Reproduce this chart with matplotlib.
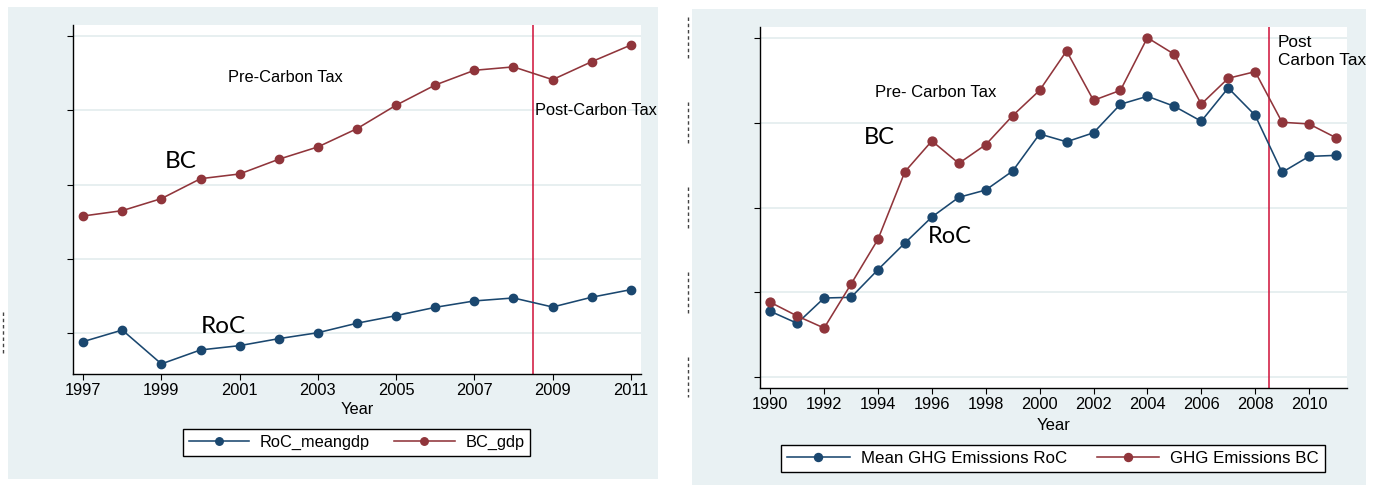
import matplotlib
matplotlib.use("Agg")
import matplotlib.pyplot as plt
from matplotlib.lines import Line2D
from matplotlib.patches import Rectangle
from matplotlib import font_manager

# ---- GDP panel data -------------------------------------------------------
gdp_years = list(range(1997, 2012))
roc_meangdp = [44.2, 52.0, 29.2, 38.6, 41.5, 46.2, 50.2, 56.6,
               61.7, 67.3, 71.6, 73.6, 67.5, 74.1, 79.2]
bc_gdp = [128.8, 132.4, 140.5, 153.9, 157.1, 167.0, 175.3, 187.6,
          203.4, 217.0, 226.9, 229.2, 220.6, 232.7, 243.9]
gdp_xticks = list(range(1997, 2012, 2))
gdp_yticks = [50, 100, 150, 200, 250]
gdp_labels = ["RoC_meangdp", "BC_gdp"]

# ---- GHG emissions panel data --------------------------------------------
ghg_years = list(range(1990, 2012))
roc_ghg = [48.89, 48.18, 49.67, 49.71, 51.34, 52.91, 54.44, 55.60, 56.03,
           57.15, 59.33, 58.87, 59.40, 61.08, 61.55, 60.96, 60.08, 62.04,
           60.43, 57.07, 58.01, 58.07]
bc_ghg = [49.42, 48.61, 47.90, 50.49, 53.13, 57.11, 58.92, 57.60, 58.70,
          60.41, 61.90, 64.22, 61.31, 61.90, 65.00, 64.02, 61.09, 62.61,
          63.00, 60.02, 59.92, 59.11]
ghg_xticks = list(range(1990, 2011, 2))
ghg_yticks = [45, 50, 55, 60, 65]
ghg_labels = ["Mean GHG Emissions RoC", "GHG Emissions BC"]

carbon_tax_year = 2008.5

# ---- styling ---------------------------------------------------------------
W, H = 1380, 488
BG = "#E9F1F3"
GRID = "#E3ECEE"
NAVY = "#1A476F"
MAROON = "#90353B"
TAXLINE = "#CF1038"

names = {f.name for f in font_manager.fontManager.ttflist}
SANS = "Liberation Sans" if "Liberation Sans" in names else "DejaVu Sans"
BIG = "Lato" if "Lato" in names else SANS
plt.rcParams["font.family"] = [SANS, "DejaVu Sans"]

fig = plt.figure(figsize=(W / 100, H / 100), dpi=100)
fig.patch.set_facecolor("white")


def fig_box(x0, y0, x1, y1):
    return [x0 / W, 1 - y1 / H, (x1 - x0) / W, (y1 - y0) / H]


def fig_pt(x, y):
    return (x / W, 1 - y / H)


# graph regions
for x0, y0, x1, y1 in [(8, 7, 658, 479), (692, 9, 1366, 485)]:
    b = fig_box(x0, y0, x1, y1)
    fig.patches.append(Rectangle((b[0], b[1]), b[2], b[3],
                                 transform=fig.transFigure, facecolor=BG,
                                 edgecolor="none", zorder=-5))


def style(ax, xticks, yticks):
    ax.set_facecolor("white")
    for s in ("top", "right"):
        ax.spines[s].set_visible(False)
    for s in ("left", "bottom"):
        ax.spines[s].set_color("black")
        ax.spines[s].set_linewidth(1.0)
    ax.set_xticks(xticks)
    ax.set_yticks(yticks)
    ax.tick_params(axis="both", direction="out", length=4.3, width=0.8,
                   color="black", labelsize=11.8, pad=2.5)
    ax.tick_params(axis="y", labelleft=False)
    ax.grid(axis="y", color=GRID, linewidth=1.2)
    ax.set_axisbelow(True)


def series(ax, x, y, color, label, ms):
    return ax.plot(x, y, color=color, lw=1.15, marker="o", ms=ms,
                   mfc=color, mec=color, label=label, zorder=3)[0]


def legend(ax, handles, labels, cx, cy, fs, cs):
    leg = ax.legend(handles, labels, loc="center",
                    bbox_to_anchor=fig_pt(cx, cy),
                    bbox_transform=fig.transFigure, ncol=2, frameon=True,
                    fancybox=False, edgecolor="black", framealpha=1,
                    handlelength=3.7, handletextpad=0.65, columnspacing=cs,
                    borderpad=0.35, fontsize=fs, markerscale=0.9,
                    numpoints=1)
    leg.get_frame().set_linewidth(1.0)
    return leg


# ---- left: GDP -------------------------------------------------------------
ax1 = fig.add_axes(fig_box(73, 25, 641, 374))
style(ax1, gdp_xticks, gdp_yticks)
ax1.set_xlim(1996.74, 2011.26)
ax1.set_ylim(22.4, 257.4)
ax1.axvline(carbon_tax_year, color=TAXLINE, lw=1.1, zorder=2)
h1 = series(ax1, gdp_years, roc_meangdp, NAVY, gdp_labels[0], 6.0)
h2 = series(ax1, gdp_years, bc_gdp, MAROON, gdp_labels[1], 6.0)
ax1.set_xlabel("Year", fontsize=11.8, labelpad=2.5)
ax1.text(2000.71, 219.2, "Pre-Carbon Tax", fontsize=11.8, va="baseline")
ax1.text(2008.55, 196.8, "Post-Carbon Tax", fontsize=11.8, va="baseline",
         clip_on=False)
ax1.text(1999.09, 160.9, "BC", fontsize=17.5, family=BIG, va="baseline")
ax1.text(2000.0, 49.8, "RoC", fontsize=17.5, family=BIG, va="baseline")
legend(ax1, [h1, h2], gdp_labels, 356.5, 442.5, 11.8, 1.45)

# ---- right: GHG emissions ------------------------------------------------
ax2 = fig.add_axes(fig_box(760, 27, 1347, 388))
style(ax2, ghg_xticks, ghg_yticks)
ax2.set_xlim(1989.62, 2011.41)
ax2.set_ylim(44.37, 65.63)
ax2.axvline(carbon_tax_year, color=TAXLINE, lw=1.1, zorder=2)
g1 = series(ax2, ghg_years, roc_ghg, NAVY, ghg_labels[0], 6.4)
g2 = series(ax2, ghg_years, bc_ghg, MAROON, ghg_labels[1], 6.4)
ax2.set_xlabel("Year", fontsize=12.0, labelpad=4)
ax2.text(1993.89, 61.49, "Pre- Carbon Tax", fontsize=12.0, va="baseline")
ax2.text(2008.84, 64.47, "Post", fontsize=12.4, va="baseline", clip_on=False)
ax2.text(2008.84, 63.39, "Carbon Tax", fontsize=12.4, va="baseline",
         clip_on=False)
ax2.text(1993.48, 58.74, "BC", fontsize=17.0, family=BIG, va="baseline")
ax2.text(1995.86, 52.93, "RoC", fontsize=17.0, family=BIG, va="baseline")
legend(ax2, [g1, g2], ghg_labels, 1053, 458.5, 12.2, 1.75)

# clipped remnants of rotated axis titles at the panel edges
for x, y0, y1 in [(687.7, 17, 60), (687.7, 102, 143), (687.7, 187, 230),
                  (687.7, 272, 313), (687.7, 357, 397), (3.3, 312, 353)]:
    fig.add_artist(Line2D([x / W, x / W], [1 - y0 / H, 1 - y1 / H],
                          transform=fig.transFigure, color="#444444",
                          lw=1.0, ls=(0, (2.5, 2.0))))

fig.savefig("out.png", dpi=100, facecolor="white")
